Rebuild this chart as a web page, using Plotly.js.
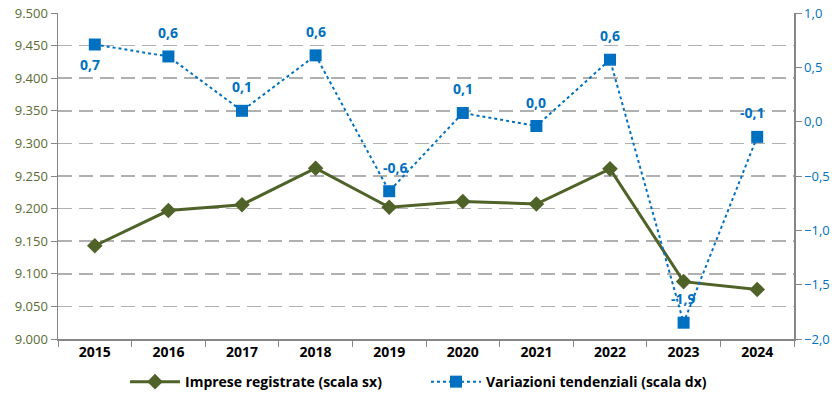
<!DOCTYPE html>
<html><head><meta charset="utf-8">
<script src="https://cdn.plot.ly/plotly-3.0.1.min.js"></script>
<style>html,body{margin:0;padding:0;background:#fff}#c{width:836px;height:403px}</style>
</head><body><div id="c"></div>
<script>
const years = ["2015","2016","2017","2018","2019","2020","2021","2022","2023","2024"];
const imprese = [9143, 9197, 9206, 9262, 9202, 9211, 9207, 9261, 9088, 9076];
const variazioni = [0.71, 0.60, 0.10, 0.61, -0.64, 0.08, -0.04, 0.57, -1.85, -0.14];
const varLabels = ["0,7","0,6","0,1","0,6","-0,6","0,1","0,0","0,6","-1,9","-0,1"];
const leftTicks = [9000,9050,9100,9150,9200,9250,9300,9350,9400,9450,9500];
const rightTicks = [-2,-1.5,-1,-0.5,0,0.5,1];

const green = "#4F6228", blue = "#0070C0";
const font = "Open Sans, Noto Sans, sans-serif";

const traces = [
  {x: years, y: imprese, name: "Imprese registrate (scala sx)", type: "scatter", mode: "lines+markers",
   line: {color: green, width: 3}, marker: {symbol: "diamond", size: 12, color: green}, yaxis: "y"},
  {x: years, y: variazioni, name: "Variazioni tendenziali (scala dx)", type: "scatter", mode: "lines+markers",
   line: {color: blue, width: 2, dash: "dot"}, marker: {symbol: "square", size: 12, color: blue}, yaxis: "y2"}
];

const annotations = varLabels.map((t, i) => ({
  x: i, y: variazioni[i], xref: "x", yref: "y2", text: t, showarrow: false,
  yshift: i === 0 ? -20 : 24, xshift: i === 0 ? -5 : (i === 4 ? 6 : (i === 9 ? -5 : 0)),
  font: {color: blue, size: 14, family: font, weight: "bold"}
}));

const layout = {
  width: 836, height: 403,
  margin: {l: 58, r: 42, t: 13, b: 64},
  separators: ",.",
  paper_bgcolor: "#fff", plot_bgcolor: "#fff",
  font: {family: font, size: 13, color: "#000"},
  showlegend: true,
  legend: {orientation: "h", x: 0.5, xanchor: "center", yref: "container", y: 0.052, yanchor: "middle",
           font: {size: 14, family: font, weight: "bold"}, itemwidth: 50, entrywidth: 236, entrywidthmode: "pixels",
           traceorder: "normal"},
  annotations: annotations,
  xaxis: {type: "category", range: [-0.5, 9.5], showgrid: false, showline: true, linecolor: "#868686", linewidth: 1.5,
          ticks: "outside", tickson: "boundaries", ticklen: 6, tickcolor: "#868686",
          tickfont: {size: 14, weight: "bold", color: "#000", family: font}, fixedrange: true},
  yaxis: {range: [9000, 9500], tickvals: leftTicks, tickformat: ",d", showline: true, linecolor: "#868686", linewidth: 1.5,
          ticks: "outside", ticklen: 6, tickcolor: "#868686", tickfont: {size: 13, color: "#5B6B33", family: font},
          showgrid: true, gridcolor: "#B0B0B0", gridwidth: 1.5, griddash: "14px,7px", zeroline: false},
  yaxis2: {range: [-2, 1], overlaying: "y", side: "right", tickvals: rightTicks, tickformat: ".1f",
           showline: true, linecolor: "#868686", linewidth: 1.5, ticks: "outside", ticklen: 6, tickcolor: "#868686",
           tickfont: {size: 13, color: blue, family: font}, showgrid: false, zeroline: false}
};

Plotly.newPlot("c", traces, layout, {displayModeBar: false, staticPlot: true});
</script></body></html>
